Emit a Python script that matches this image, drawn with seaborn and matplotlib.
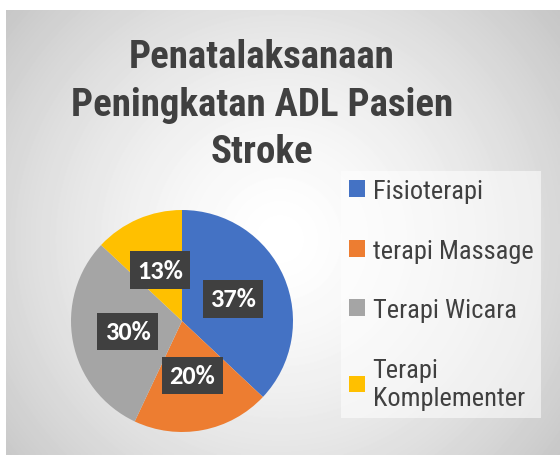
import numpy as np
import matplotlib
matplotlib.use('Agg')
import matplotlib.pyplot as plt
import seaborn as sns

# data
categories = ['Fisioterapi', 'terapi Massage', 'Terapi Wicara', 'Terapi\nKomplementer']
shares = [37, 20, 30, 13]
colors = ['#4472C4', '#ED7D31', '#A5A5A5', '#FFC000']
title = 'Penatalaksanaan\nPeningkatan ADL Pasien\nStroke'

sns.set_theme(style='white')
narrow = ['Roboto Condensed', 'Archivo Narrow', 'Liberation Sans']

W, H = 560, 456
fig = plt.figure(figsize=(W / 100, H / 100), dpi=100)
fig.patch.set_facecolor('white')

# radial gradient background panel
bg = fig.add_axes([6 / W, 0, (W - 6) / W, (H - 11) / H])
yy, xx = np.mgrid[0:445, 0:554]
r = np.hypot(xx - 274, yy - 229) / 357
shade = 1 - 0.22 * np.clip(r, 0, 1.2) ** 1.5
bg.imshow(shade, cmap='gray', vmin=0, vmax=1, aspect='auto', interpolation='bilinear')
bg.axis('off')

# pie
ax = fig.add_axes([71 / W, 23 / H, 222 / W, 222 / H])
wedges, texts, autotexts = ax.pie(
    shares, colors=sns.color_palette(colors), startangle=90, counterclock=False,
    autopct='%1.0f%%', pctdistance=0.5, wedgeprops=dict(linewidth=0),
    textprops=dict(color='white', fontsize=19, fontweight='bold', family='Carlito'))
for t in autotexts:
    t.set_bbox(dict(boxstyle='square,pad=0.28', fc='#404040', ec='none'))
ax.set_xlim(-1, 1)
ax.set_ylim(-1, 1)
ax.set_aspect('equal')
ax.axis('off')

# title
fig.text(262 / W, 1 - 105 / H, title, ha='center', va='center', multialignment='center',
         fontsize=28, fontweight='bold', color='#404040', family=narrow, linespacing=1.35)

# legend
leg = fig.legend(wedges, categories, loc='upper left', bbox_to_anchor=(341 / W, 1 - 172 / H),
                 borderaxespad=0, frameon=True, fancybox=False, framealpha=0.55,
                 facecolor='white', edgecolor='none',
                 handlelength=0.6, handleheight=0.6, handletextpad=0.3, labelspacing=1.35,
                 borderpad=0.3, prop=dict(family=narrow, size=19))
for t in leg.get_texts():
    t.set_color('#404040')

fig.savefig('out.png', dpi=100)
